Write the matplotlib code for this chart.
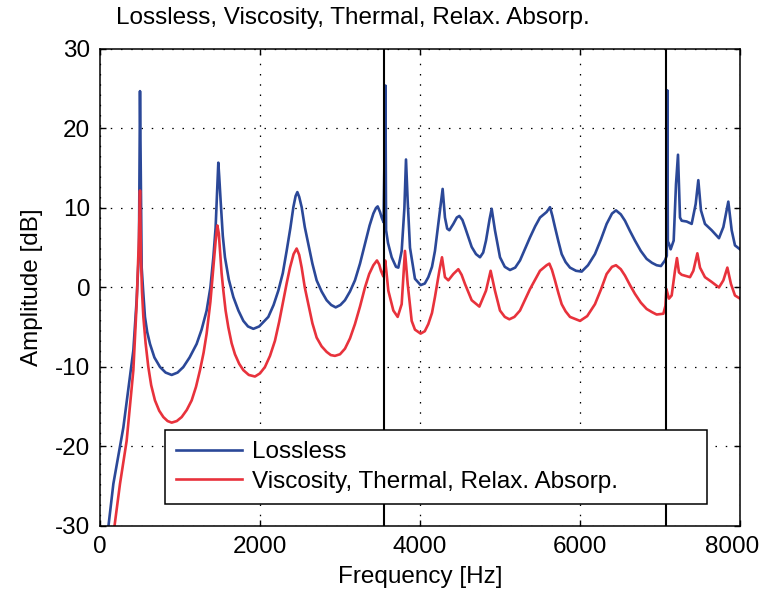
import numpy as np
import matplotlib
matplotlib.use("Agg")
import matplotlib.pyplot as plt
from matplotlib.transforms import ScaledTranslation

plt.rcParams['font.family'] = ['Liberation Sans', 'DejaVu Sans']
plt.rcParams['axes.unicode_minus'] = False

# frequency [Hz] and amplitude [dB]
lossless_f = [100, 167, 292, 417, 458, 487, 500, 521, 540, 562, 590, 625, 680, 750, 820,
              896, 970, 1042, 1120, 1208, 1270, 1333, 1380, 1417, 1445, 1467, 1479,
              1490, 1508, 1535, 1562, 1610, 1667, 1730, 1792, 1850, 1917, 1990, 2104,
              2170, 2229, 2285, 2333, 2380, 2417, 2445, 2467, 2490, 2521, 2560, 2604,
              2655, 2708, 2770, 2833, 2890, 2946, 3005, 3062, 3125, 3187, 3250, 3312,
              3370, 3417, 3450, 3471, 3500, 3521, 3545, 3568, 3576, 3600, 3646, 3700,
              3729, 3771, 3805, 3825, 3846, 3875, 3937, 4008, 4060, 4104, 4150, 4187,
              4250, 4283, 4312, 4340, 4367, 4417, 4460, 4492, 4530, 4562, 4646, 4700,
              4750, 4790, 4825, 4870, 4896, 4937, 5000, 5060, 5125, 5190, 5250, 5310,
              5375, 5440, 5500, 5583, 5625, 5655, 5687, 5730, 5771, 5820, 5875, 5950,
              6021, 6100, 6187, 6260, 6333, 6400, 6450, 6510, 6562, 6625, 6687, 6760,
              6833, 6900, 6958, 7012, 7062, 7085, 7092, 7098, 7112, 7133, 7171, 7200,
              7225, 7250, 7271, 7333, 7396, 7446, 7479, 7512, 7562, 7646, 7737, 7792,
              7854, 7896, 7937, 8000]
lossless_db = [-30.5, -24.7, -17.6, -7.9, -1.6, 4.6, 24.7, 2.5, -0.5, -3.7, -5.6, -7.1, -8.8, -10.0, -10.7,
               -11.0, -10.7, -10.0, -8.8, -7.1, -5.3, -2.9, 0.0, 3.8, 7.5, 13.0, 15.7,
               14.0, 10.9, 6.5, 3.8, 1.0, -1.2, -2.9, -4.2, -4.9, -5.2, -4.9, -3.7,
               -2.2, -0.4, 1.8, 4.6, 7.5, 10.1, 11.5, 12.0, 11.4, 10.1, 7.6, 5.5,
               3.0, 0.9, -0.5, -1.6, -2.2, -2.5, -2.2, -1.6, -0.5, 0.9, 3.0, 5.5,
               7.8, 9.3, 10.0, 10.2, 9.5, 8.8, 8.2, 25.4, 7.2, 5.6, 3.8, 2.6,
               2.5, 4.6, 10.0, 16.1, 10.9, 5.0, 1.1, 0.3, 0.5, 1.3, 2.6, 4.6,
               9.7, 12.4, 8.8, 7.4, 7.2, 8.0, 8.8, 9.0, 8.5, 7.6, 5.1, 4.2,
               3.8, 4.4, 5.9, 8.6, 9.9, 7.2, 3.8, 2.6, 2.2, 2.5, 3.4, 4.8,
               6.3, 7.7, 8.8, 9.5, 10.1, 9.0, 7.6, 5.8, 4.2, 3.2, 2.5, 2.1,
               2.0, 2.8, 4.2, 6.0, 8.0, 9.3, 9.7, 9.2, 8.4, 7.1, 5.9, 4.6,
               3.6, 3.1, 2.8, 2.7, 3.4, 4.0, 24.8, 5.8, 5.5, 4.8, 5.9, 13.0,
               16.7, 8.8, 8.4, 8.3, 8.0, 10.5, 13.5, 9.7, 8.0, 7.2, 6.2, 7.6,
               10.8, 7.2, 5.3, 4.8]

lossy_f = [175, 250, 333, 417, 458, 487, 500, 512, 525, 542, 570, 604, 640, 687, 740,
           792, 845, 896, 960, 1021, 1085, 1146, 1200, 1250, 1295, 1333, 1380, 1417,
           1445, 1467, 1485, 1500, 1520, 1542, 1570, 1604, 1645, 1687, 1740, 1792,
           1860, 1937, 2000, 2062, 2125, 2187, 2240, 2292, 2335, 2375, 2420, 2458,
           2490, 2521, 2560, 2604, 2655, 2708, 2770, 2833, 2885, 2937, 3000, 3062,
           3125, 3187, 3250, 3312, 3365, 3417, 3462, 3490, 3512, 3541, 3565, 3580,
           3604, 3667, 3721, 3771, 3812, 3846, 3896, 3937, 4008, 4060, 4104, 4150,
           4187, 4242, 4275, 4312, 4354, 4417, 4479, 4520, 4562, 4646, 4742, 4825,
           4883, 4937, 5000, 5060, 5117, 5180, 5250, 5310, 5375, 5440, 5500, 5583,
           5617, 5650, 5687, 5730, 5771, 5820, 5875, 6000, 6090, 6187, 6260, 6333,
           6400, 6450, 6510, 6562, 6625, 6687, 6760, 6833, 6900, 6958, 7042, 7068,
           7080, 7112, 7146, 7187, 7212, 7237, 7271, 7375, 7417, 7467, 7500, 7562,
           7646, 7737, 7792, 7842, 7887, 7937, 8000]
lossy_db = [-30.5, -24.7, -19.3, -10.4, -2.1, 6.3, 12.2, 3.8, -0.5, -3.7, -7.0, -10.0, -12.3, -14.2, -15.5,
            -16.3, -16.8, -17.0, -16.8, -16.3, -15.4, -14.2, -12.5, -10.4, -8.2, -5.8, -1.8, 2.5,
            5.8, 7.8, 6.8, 4.6, 1.8, -0.4, -2.9, -5.0, -7.0, -8.4, -9.6, -10.4,
            -11.0, -11.2, -10.8, -10.0, -8.6, -6.7, -4.3, -1.6, 0.6, 2.5, 4.2, 4.9,
            4.1, 2.5, 0.0, -2.1, -4.5, -6.3, -7.4, -8.1, -8.5, -8.6, -8.4, -7.7,
            -6.4, -4.6, -2.4, 0.0, 1.7, 2.8, 3.4, 2.9, 2.1, 1.4, 3.4, 2.0,
            -0.4, -2.9, -3.7, -2.1, 4.6, 0.45, -4.2, -5.3, -5.8, -5.5, -4.6, -3.2,
            -1.2, 2.1, 3.8, 1.3, 0.9, 1.7, 2.3, 1.6, 0.45, -1.6, -2.4, -0.4,
            2.1, -0.4, -2.9, -3.7, -4.0, -3.7, -2.9, -1.6, -0.2, 1.0, 2.1, 2.8,
            3.0, 2.2, 0.9, -0.7, -2.1, -3.0, -3.7, -4.2, -3.6, -2.1, -0.3, 1.7,
            2.6, 2.8, 2.3, 1.5, 0.3, -0.8, -1.9, -2.7, -3.1, -3.4, -3.3, -2.3,
            -0.2, -1.4, -1.0, 2.1, 3.7, 1.9, 1.6, 1.3, 2.1, 4.3, 2.5, 1.3,
            0.7, 0.0, 0.9, 2.5, 0.45, -1.0, -1.4]

cut_on = [3545, 7075]  # vertical markers

labels = ['Lossless', 'Viscosity, Thermal, Relax. Absorp.']
title = 'Lossless, Viscosity, Thermal, Relax. Absorp.'

fig = plt.figure(figsize=(7.61, 5.99), dpi=100)
ax = fig.add_axes([0.1314, 0.1219, 0.8410, 0.7963])

ax.plot(lossless_f, lossless_db, color='#2b4898', lw=1.9, label=labels[0])
ax.plot(lossy_f, lossy_db, color='#e8323c', lw=1.9, label=labels[1])
for fc in cut_on:
    ax.axvline(fc, color='k', lw=1.5)

ax.set_xlim(0, 8000)
ax.set_ylim(-30, 30)
ax.set_xticks([0, 2000, 4000, 6000, 8000])
ax.set_yticks([-30, -20, -10, 0, 10, 20, 30])
ax.grid(True, color='k', linestyle=(0, (1.2, 7)), lw=0.9)
ax.tick_params(direction='in', top=True, right=True, length=4, width=1,
               labelsize=17.5, pad=7)
for s in ax.spines.values():
    s.set_linewidth(1.1)

# last x label sits a bit left, as in the original
lab = ax.get_xticklabels()[-1]
lab.set_transform(lab.get_transform() + ScaledTranslation(-8 / 100, 0, fig.dpi_scale_trans))

ax.set_xlabel('Frequency [Hz]', fontsize=17.5, labelpad=6)
ax.set_ylabel('Amplitude [dB]', fontsize=17.5, labelpad=9)
fig.text(353 / 761, 1 - 18 / 599, title, ha='center', va='center', fontsize=17.5)

leg = ax.legend(loc='lower left', bbox_to_anchor=(0.102, 0.047, 0.847, 0.155),
                mode='expand', fontsize=17.5, fancybox=False, framealpha=1,
                edgecolor='k', handlelength=2.7, handletextpad=0.4,
                borderaxespad=0, labelspacing=0.3, borderpad=0.45)
leg.get_frame().set_linewidth(1.1)

fig.savefig('out.png', dpi=100)
